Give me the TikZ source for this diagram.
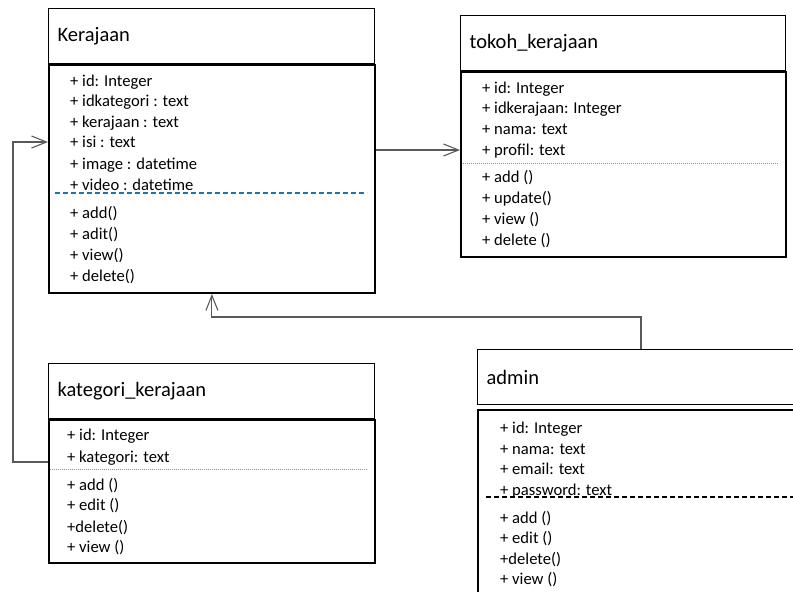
\documentclass[tikz,border=0pt]{standalone}
\usepackage{fontspec}
\setmainfont{Carlito}
\usetikzlibrary{arrows.meta,positioning}
\definecolor{sepblue}{RGB}{28,117,170}

\begin{document}
\begin{tikzpicture}[x=1pt, y=-1pt,
    classtitle/.style={draw, line width=1.2pt, anchor=north west, inner xsep=9pt, minimum height=55pt, text width=#1, align=left, font=\fontsize{20.5}{24}\selectfont},
    classbody/.style={draw, line width=1.8pt, anchor=north west, inner sep=0pt},
    attr/.style={anchor=base west, inner sep=0pt, font=\fontsize{16.6}{20}\selectfont},
    assoc/.style={draw=black!65, line width=1.1pt, -{Straight Barb[length=15pt,width=12pt]}},
    sepdot/.style={draw=black!45, line width=0.9pt, dash pattern=on 1pt off 1pt}]
  \clip (0,0) rectangle (793,592);

  % Kerajaan
  \node (kerT) [classtitle=308pt] at (48,8) {Kerajaan};
  \node (kerB) [classbody, minimum width=326pt, minimum height=228pt] at (kerT.south west) {};
  \foreach \y/\t [count=\i] in {86/+ id: Integer, 106/+ idkategori : text, 127/+ kerajaan : text, 147/+ isi : text, 169/+ image : datetime, 190/+ video : datetime}
    \node (ker-a\i) [attr] at (70,\y) {\t};
  \draw[sepblue, line width=1.5pt, dash pattern=on 5pt off 3pt] (55,193) -- (367,193);
  \foreach \y/\t [count=\i] in {218/+ add(), 239/+ adit(), 260/+ view(), 281/+ delete()}
    \node (ker-m\i) [attr] at (70,\y) {\t};

  % tokoh_kerajaan
  \node (tokT) [classtitle=307pt] at (460,15) {tokoh\_kerajaan};
  \node (tokB) [classbody, minimum width=325pt, minimum height=185pt] at (tokT.south west) {};
  \foreach \y/\t [count=\i] in {93/+ id: Integer, 113/+ idkerajaan: Integer, 134/+ nama: text, 155/+ profil: text}
    \node (tok-a\i) [attr] at (482,\y) {\t};
  \draw[sepdot] (463,163) -- (779,163);
  \foreach \y/\t [count=\i] in {182/+ add (), 203/+ update(), 224/+ view (), 245/+ delete ()}
    \node (tok-m\i) [attr] at (482,\y) {\t};

  % kategori_kerajaan
  \node (katT) [classtitle=308pt] at (48,363) {kategori\_kerajaan};
  \node (katB) [classbody, minimum width=326pt, minimum height=143pt] at (katT.south west) {};
  \foreach \y/\t [count=\i] in {440/+ id: Integer, 462/+ kategori: text}
    \node (kat-a\i) [attr] at (67,\y) {\t};
  \draw[sepdot] (50,469) -- (367,469);
  \foreach \y/\t [count=\i] in {490/+ add (), 510/+ edit (), 532/+delete(), 552/+ view ()}
    \node (kat-m\i) [attr] at (67,\y) {\t};

  % admin
  \node (admT) [classtitle=340pt] at (477,349) {admin};
  \node (admB) [classbody, minimum width=358pt, minimum height=200pt] at ([yshift=-4pt]admT.south west) {};
  \foreach \y/\t [count=\i] in {433/+ id: Integer, 454/+ nama: text, 474/+ email: text, 495/+ password: text}
    \node (adm-a\i) [attr] at (500,\y) {\t};
  \draw[line width=1.3pt, dash pattern=on 5pt off 3pt] (486,497) -- (793,497);
  \foreach \y/\t [count=\i] in {523/+ add (), 543/+ edit (), 564/+delete(), 584/+ view ()}
    \node (adm-m\i) [attr] at (500,\y) {\t};

  % associations
  \coordinate (bendL) at (13,142);
  \coordinate (bendR) at (641,317);
  \draw[assoc] (kerB.east |- 0,150) -- (tokB.west |- 0,150);
  \draw[assoc] (katB.west |- 0,462) -| (bendL) -- (kerB.west |- bendL);
  \draw[assoc] (admT.north -| bendR) -- (bendR) -| (kerB.south);
\end{tikzpicture}
\end{document}
